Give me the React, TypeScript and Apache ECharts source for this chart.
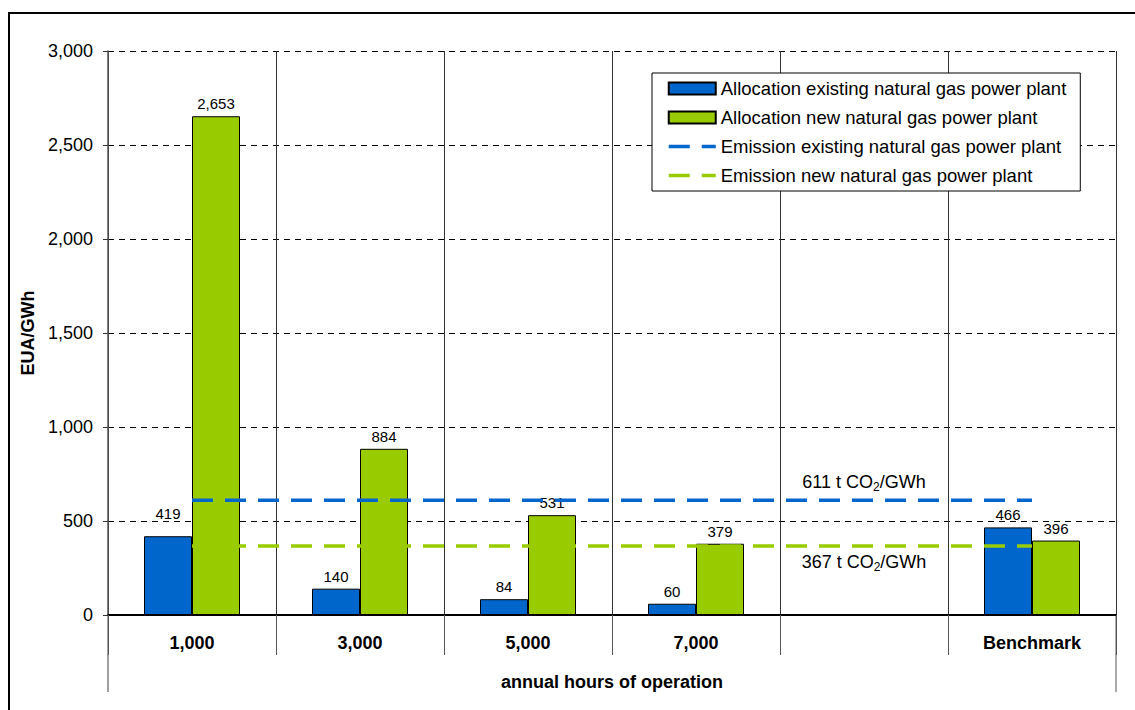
import React, { useEffect, useRef } from 'react';
import * as echarts from 'echarts';

const categories = ['1,000', '3,000', '5,000', '7,000', '', 'Benchmark'];
const existingAllocation = [419, 140, 84, 60, null, 466];
const newAllocation = [2653, 884, 531, 379, null, 396];
const emissionExisting = [611, 611, 611, 611, 611, 611];
const emissionNew = [367, 367, 367, 367, 367, 367];
const seriesNames = [
  'Allocation existing natural gas power plant',
  'Allocation new natural gas power plant',
  'Emission existing natural gas power plant',
  'Emission new natural gas power plant',
];
const emissionLabels = ['611 t CO{sub|2}/GWh', '367 t CO{sub|2}/GWh'];
const labelCategoryIndex = 4;
const yMin = 0;
const yMax = 3000;
const yInterval = 500;

const BLUE = '#0066CC';
const GREEN = '#99CC00';
const FONT = 'Arial, "Liberation Sans", sans-serif';

export default function App() {
  const ref = useRef<HTMLDivElement>(null);
  useEffect(() => {
    const chart = echarts.init(ref.current!, null, { renderer: 'svg' });
    const L = 108, R = 19, T = 51, B = 95;
    const W = 1135, H = 710;
    const barLabel = {
      show: true,
      position: 'top',
      distance: 5,
      color: '#000',
      fontSize: 15,
      fontFamily: FONT,
      formatter: (p: any) => Number(p.value).toLocaleString('en-US'),
    };
    const hiddenSymbol = { color: 'rgba(0,0,0,0)', borderWidth: 0, opacity: 0 };
    const option: any = {
      animation: false,
      backgroundColor: '#fff',
      textStyle: { fontFamily: FONT },
      grid: { left: L, right: R, top: T, bottom: B, containLabel: false },
      legend: {
        orient: 'vertical',
        left: 652,
        top: 73,
        padding: [6, 14, 6, 15],
        itemGap: 10,
        itemWidth: 47,
        itemHeight: 12,
        itemTextGap: 5,
        backgroundColor: '#fff',
        borderColor: '#000',
        borderWidth: 1,
        borderRadius: 0,
        selectedMode: false,
        textStyle: { fontSize: 18.5, fontFamily: FONT, color: '#000', lineHeight: 19 },
        lineStyle: { width: 3.5 },
        data: [
          { name: seriesNames[0], icon: 'rect' },
          { name: seriesNames[1], icon: 'rect' },
          { name: seriesNames[2], itemStyle: hiddenSymbol },
          { name: seriesNames[3], itemStyle: hiddenSymbol },
        ],
      },
      xAxis: {
        type: 'category',
        data: categories,
        axisLine: { show: true, lineStyle: { color: '#000', width: 2 } },
        axisTick: { show: true, length: 40, lineStyle: { color: '#555', width: 1 } },
        splitLine: { show: true, lineStyle: { color: '#333', width: 1 } },
        axisLabel: { fontWeight: 'bold', fontSize: 18, color: '#000', margin: 19, fontFamily: FONT },
        name: 'annual hours of operation',
        nameLocation: 'middle',
        nameGap: 58,
        nameTextStyle: { fontWeight: 'bold', fontSize: 18, color: '#000', fontFamily: FONT },
      },
      yAxis: {
        type: 'value',
        min: yMin,
        max: yMax,
        interval: yInterval,
        axisLine: { show: true, lineStyle: { color: '#555', width: 1.5 } },
        axisTick: { show: true, length: 5, lineStyle: { color: '#333' } },
        splitLine: { show: true, lineStyle: { color: '#000', width: 1, type: [6, 5] } },
        axisLabel: {
          fontSize: 18,
          color: '#000',
          margin: 15,
          fontFamily: FONT,
          formatter: (v: number) => v.toLocaleString('en-US'),
        },
        name: 'EUA/GWh',
        nameLocation: 'middle',
        nameGap: 57,
        nameRotate: 90,
        nameTextStyle: { fontWeight: 'bold', fontSize: 18, color: '#000', fontFamily: FONT },
      },
      series: [
        {
          name: seriesNames[0],
          type: 'bar',
          barWidth: 48,
          barGap: '0%',
          itemStyle: { color: BLUE, borderColor: '#000', borderWidth: 1 },
          label: barLabel,
          data: existingAllocation.map((v, i) =>
            i === 0 ? { value: v, label: { offset: [0, -10] } } : v
          ),
        },
        {
          name: seriesNames[1],
          type: 'bar',
          barWidth: 48,
          barGap: '0%',
          itemStyle: { color: GREEN, borderColor: '#000', borderWidth: 1 },
          label: barLabel,
          data: newAllocation,
        },
        {
          name: seriesNames[2],
          type: 'line',
          symbol: 'none',
          z: 5,
          itemStyle: { color: BLUE },
          lineStyle: { color: BLUE, width: 3.5, type: [21, 12] },
          data: emissionExisting,
        },
        {
          name: seriesNames[3],
          type: 'line',
          symbol: 'none',
          z: 5,
          itemStyle: { color: GREEN },
          lineStyle: { color: GREEN, width: 3.5, type: [21, 12] },
          data: emissionNew,
        },
      ],
    };
    chart.setOption(option);

    const p1 = chart.convertToPixel({ seriesIndex: 2 }, [labelCategoryIndex, emissionExisting[labelCategoryIndex]]) as number[];
    const p2 = chart.convertToPixel({ seriesIndex: 3 }, [labelCategoryIndex, emissionNew[labelCategoryIndex]]) as number[];
    const rich = {
      sub: { fontSize: 12, fontFamily: FONT, fill: '#000', lineHeight: 12, verticalAlign: 'bottom' },
    };
    const bottomY = H - B;
    chart.setOption({
      graphic: [
        {
          type: 'rect',
          silent: true,
          z: 100,
          shape: { x: 9, y: 13, width: W + 20, height: H + 20 },
          style: { fill: 'none', stroke: '#000', lineWidth: 2 },
        },
        {
          type: 'line',
          silent: true,
          shape: { x1: L, y1: bottomY, x2: L, y2: 692 },
          style: { stroke: '#808080', lineWidth: 1.5 },
        },
        {
          type: 'line',
          silent: true,
          shape: { x1: W - R, y1: bottomY, x2: W - R, y2: 692 },
          style: { stroke: '#555', lineWidth: 1 },
        },
        {
          type: 'text',
          silent: true,
          z: 10,
          x: p1[0],
          y: p1[1] - 18,
          style: {
            text: emissionLabels[0],
            fontSize: 18,
            fontFamily: FONT,
            fill: '#000',
            lineHeight: 22,
            align: 'center',
            verticalAlign: 'middle',
            rich,
          },
        },
        {
          type: 'text',
          silent: true,
          z: 10,
          x: p2[0],
          y: p2[1] + 16,
          style: {
            text: emissionLabels[1],
            fontSize: 18,
            fontFamily: FONT,
            fill: '#000',
            lineHeight: 22,
            align: 'center',
            verticalAlign: 'middle',
            rich,
          },
        },
      ],
    });
    return () => chart.dispose();
  }, []);
  return (
    <div
      ref={ref}
      style={{ position: 'fixed', left: 0, top: 0, width: 1135, height: 710, background: '#fff' }}
    />
  );
}
